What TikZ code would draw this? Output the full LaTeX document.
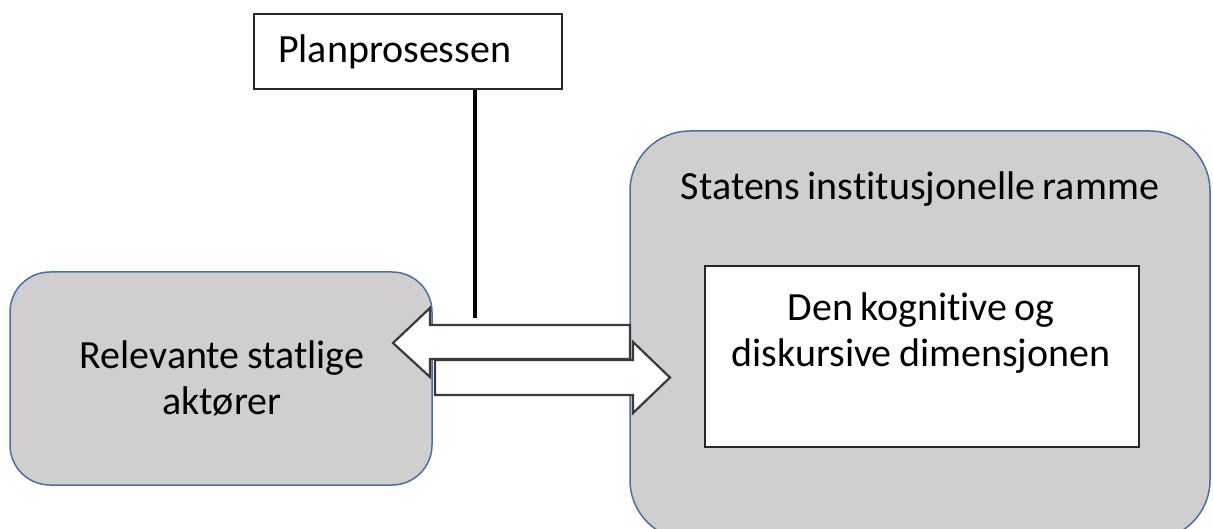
\documentclass[tikz,border=0pt]{standalone}
\usepackage{fontspec}
\setmainfont{Carlito}[Ligatures=NoCommon, WordSpace=0.8]
\definecolor{panelgray}{HTML}{D0CECE}
\definecolor{panelblue}{HTML}{4A6FA8}
\definecolor{arrowline}{HTML}{3A3A3A}
\tikzset{
  bigtext/.style={font=\fontsize{40}{46}\selectfont, text=black},
  panel/.style={draw=panelblue, line width=1.5pt, fill=panelgray, rounded corners=#1},
  plainbox/.style={draw=black!85, line width=2.2pt, fill=white},
  blockarrow/.style={draw=arrowline, line width=2.2pt, fill=white, line join=miter},
}
\begin{document}
\begin{tikzpicture}[x=1pt,y=-1pt]
  \useasboundingbox (0,0) rectangle (1213,529);
  \clip (0,0) rectangle (1213,529);

  % actors on the left
  \node[panel=40pt, minimum width=422pt, minimum height=213pt, inner sep=0pt]
    (actors) at (221,378.5) {};
  \node[bigtext, align=center] (actorstext) at (222,378) {Relevante statlige\\aktører};

  % the state's institutional frame (runs past the lower edge)
  \node[panel=60pt, minimum width=580pt, minimum height=409pt, inner sep=0pt]
    (frame) at (920,335.5) {};
  \node[bigtext] (frametitle) at (920,189) {Statens institusjonelle ramme};

  % the cognitive and discursive dimension
  \node[plainbox, minimum width=434pt, minimum height=181pt, inner sep=0pt]
    (dim) at (922,356.5) {};
  \node[bigtext, align=center] (dimtext) at (921,333) {Den kognitive og\\diskursive dimensjonen};

  % planning process
  \node[plainbox, bigtext, minimum height=75pt, text width=260pt, inner xsep=24pt,
        align=left] (plan) at (408,51.5) {Planprosessen};

  % block arrows between actors and frame
  \draw[blockarrow] (630,325) -- (430,325) -- (430,308) -- (393,343)
    -- (430,377) -- (430,359) -- (630,359) -- cycle;
  \draw[blockarrow] (435,360) -- (633,360) -- (633,342) -- (670,377.5)
    -- (633,413) -- (633,395) -- (435,395) -- cycle;

  % planning process link
  \coordinate (linkend) at (475,318);
  \draw[line width=3.2pt, black] (plan.south -| linkend) -- (linkend);
\end{tikzpicture}
\end{document}
